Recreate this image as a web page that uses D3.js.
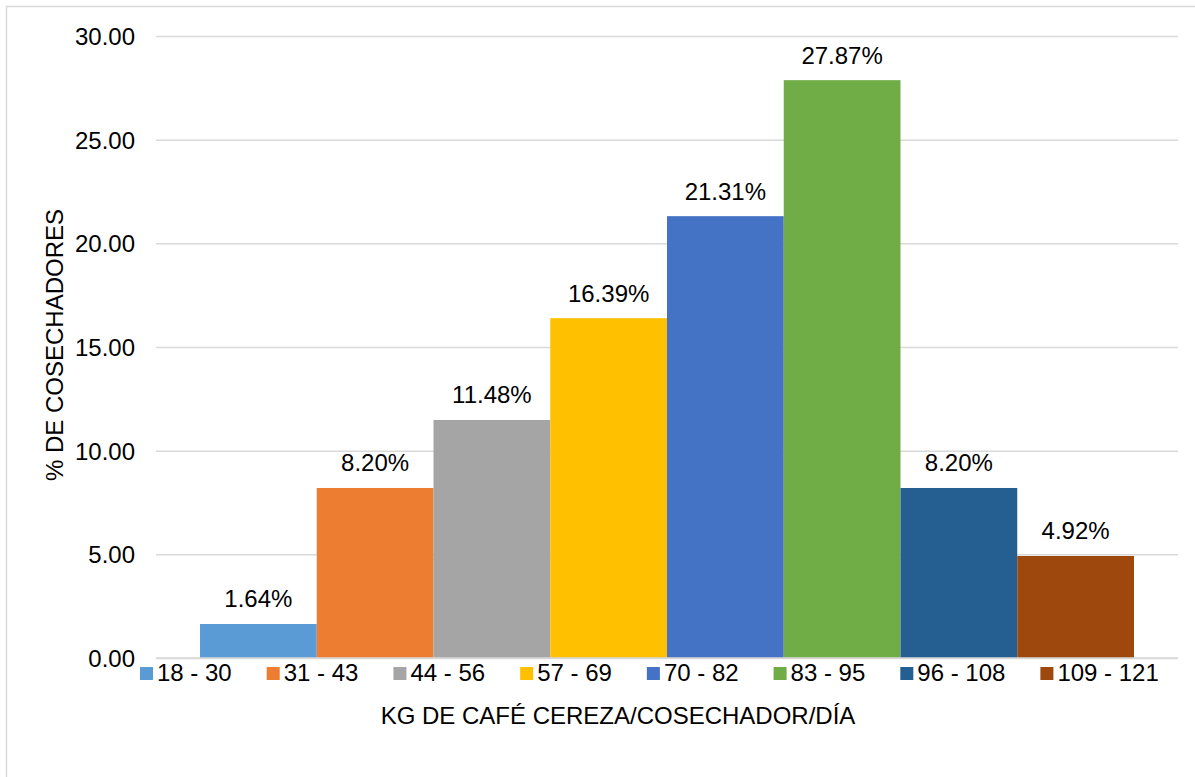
<!DOCTYPE html>
<html>
<head>
<meta charset="utf-8">
<script src="https://cdn.jsdelivr.net/npm/d3@7"></script>
<style>
  html, body { margin: 0; padding: 0; background: #fff; }
  svg { display: block; font-family: "Liberation Sans", Arial, sans-serif; }
</style>
</head>
<body>
<svg id="chart" width="1195" height="777"></svg>
<script>
// Harvest-rate classes (kg of cherry coffee per picker per day)
const classes = ["18 - 30", "31 - 43", "44 - 56", "57 - 69", "70 - 82", "83 - 95", "96 - 108", "109 - 121"];
// Share of pickers in each class (%)
const shares = [1.64, 8.20, 11.48, 16.39, 21.31, 27.87, 8.20, 4.92];
const colors = ["#5B9BD5", "#ED7D31", "#A5A5A5", "#FFC000", "#4472C4", "#70AD47", "#255E91", "#9E480E"];
const yTicks = [0, 5, 10, 15, 20, 25, 30];

const svg = d3.select("#chart");
const plot = { left: 156, right: 1178, top: 36, bottom: 658 };
const fontSize = 24;

// Outer chart frame
svg.append("rect")
  .attr("x", 6.5).attr("y", 6.5)
  .attr("width", 1220).attr("height", 800)
  .attr("fill", "none").attr("stroke", "#d9d9d9").attr("stroke-width", 1.5);

const y = d3.scaleLinear().domain([0, 30]).range([plot.bottom, plot.top]);
const x = d3.scaleBand().domain(classes)
  .range([plot.left, plot.right])
  .paddingInner(0).paddingOuter(0.377);

// Horizontal gridlines and tick labels
const yAxis = d3.axisLeft(y).tickValues(yTicks)
  .tickSize(-(plot.right - plot.left)).tickPadding(21)
  .tickFormat(d3.format(".2f"));
const gy = svg.append("g").attr("transform", `translate(${plot.left},0)`).call(yAxis);
gy.select(".domain").remove();
gy.selectAll(".tick line").attr("stroke", "#d9d9d9").attr("stroke-width", 1.5);
gy.selectAll(".tick text")
  .attr("fill", "#000").attr("font-size", fontSize)
  .attr("font-family", "Liberation Sans, Arial, sans-serif")
  .attr("dy", "0.36em");

// Bars
svg.append("g").selectAll("rect").data(classes).join("rect")
  .attr("x", d => x(d))
  .attr("width", x.bandwidth())
  .attr("y", (d, i) => y(shares[i]))
  .attr("height", (d, i) => y(0) - y(shares[i]))
  .attr("fill", (d, i) => colors[i]);

// Value labels above bars
svg.append("g").selectAll("text").data(classes).join("text")
  .attr("x", d => x(d) + x.bandwidth() / 2)
  .attr("y", (d, i) => y(shares[i]) - 16.5)
  .attr("text-anchor", "middle")
  .attr("font-size", fontSize)
  .attr("fill", "#000")
  .text((d, i) => shares[i].toFixed(2) + "%");

// Baseline
svg.append("line")
  .attr("x1", plot.left).attr("x2", plot.right)
  .attr("y1", y(0)).attr("y2", y(0))
  .attr("stroke", "#d9d9d9").attr("stroke-width", 1.5);

// Legend
const legend = svg.append("g");
let lx = 140;
classes.forEach((c, i) => {
  const g = legend.append("g").attr("transform", `translate(${lx},0)`);
  g.append("rect").attr("x", 0).attr("y", 667).attr("width", 13).attr("height", 13).attr("fill", colors[i]);
  const t = g.append("text").attr("x", 17).attr("y", 681)
    .attr("font-size", fontSize).attr("fill", "#000").text(c);
  lx += 17 + t.node().getComputedTextLength() + 35;
});

// Axis titles
svg.append("text")
  .attr("x", 618).attr("y", 724)
  .attr("text-anchor", "middle")
  .attr("font-size", fontSize).attr("fill", "#000")
  .text("KG DE CAFÉ CEREZA/COSECHADOR/DÍA");

svg.append("text")
  .attr("transform", "translate(63,345) rotate(-90)")
  .attr("text-anchor", "middle")
  .attr("font-size", fontSize).attr("fill", "#000")
  .text("% DE COSECHADORES");
</script>
</body>
</html>
